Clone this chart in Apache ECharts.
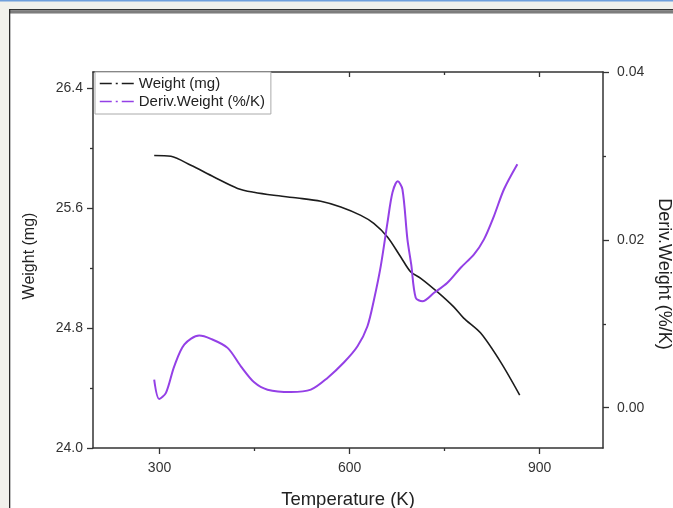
<!DOCTYPE html>
<html>
<head>
<meta charset="utf-8">
<script src="https://cdn.jsdelivr.net/npm/echarts@6/dist/echarts.min.js"></script>
<style>
html,body{margin:0;padding:0;background:#f1f1ec;}
#c{width:673px;height:508px;}
</style>
</head>
<body>
<div id="c"></div>
<script>
// Weight (mg) vs Temperature (K)
const weightT = [291.6,318,349.5,385.8,423.2,448.9,480.4,517.8,554.6,586.1,617.7,638.2,659.8,680.8,696.6,712.3,738.6,764.4,780.1,806.9,838.5,868.5];
const weightV = [25.953,25.947,25.887,25.809,25.733,25.707,25.687,25.669,25.647,25.609,25.553,25.5,25.409,25.275,25.175,25.133,25.042,24.942,24.867,24.767,24.573,24.353];
// Deriv. Weight (%/K) vs Temperature (K)
const derivT = [291.6,299.5,310.1,323.2,339.0,362.6,381.1,407.4,428.4,449.4,470.5,507.3,538.8,565.1,591.3,612.5,628.2,638.6,649.2,659.8,667.7,676.0,683.4,691.3,697.3,704.4,715.0,733.3,754.4,775.4,796.4,812.1,827.9,843.7,864.8];
const derivV = [0.00334,0.00104,0.00176,0.00493,0.00752,0.0086,0.0082,0.00713,0.00493,0.00302,0.00215,0.00187,0.00215,0.00355,0.00541,0.00732,0.00971,0.0129,0.01687,0.02205,0.02564,0.02698,0.02603,0.02006,0.01707,0.0131,0.01269,0.01369,0.01489,0.01668,0.01827,0.02006,0.02284,0.02603,0.02901];
// Tick labels
const xMajor = [300,600,900];
const xMinor = [450,750];
const yLeftMajor = [24.0,24.8,25.6,26.4];
const yLeftMinor = [24.4,25.2,26.0];
const yRightMajor = [0.00,0.02,0.04];
const yRightMinor = [0.01,0.03];
const seriesNames = ['Weight (mg)','Deriv.Weight (%/K)'];

const FONT = 'Liberation Sans, Arial, sans-serif';
const AX = '#333';
const xMin = 195, xMax = 1000;
const yLMin = 24.0, yLMax = 26.51;
const yRMin = -0.0048, yRMax = 0.04;

function xAx(pos, ticks, len, inside, showLine, labels, name) {
  return {
    type:'value', position:pos, min:xMin, max:xMax,
    axisLine:{show:showLine, onZero:false, lineStyle:{color:AX,width:1.5}},
    axisTick:{show:true, inside:inside, length:len, customValues:ticks, lineStyle:{color:AX,width:1.3}},
    axisLabel: labels ? {show:true, customValues:labels, color:'#333', fontFamily:FONT, fontSize:14, margin:13} : {show:false},
    splitLine:{show:false},
    name: name || '', nameLocation:'middle', nameGap:42,
    nameTextStyle:{color:'#222', fontFamily:FONT, fontSize:18.5}
  };
}
function yAx(pos, min, max, ticks, len, showLine, labels, fmt, margin, name, rot, gap, fs, pad) {
  return {
    type:'value', position:pos, min:min, max:max,
    axisLine:{show:showLine, onZero:false, lineStyle:{color:AX,width:1.5}},
    axisTick:{show:true, inside:false, length:len, customValues:ticks, lineStyle:{color:AX,width:1.3}},
    axisLabel: labels ? {show:true, customValues:labels, formatter:fmt, color:'#333', fontFamily:FONT, fontSize:14, margin:margin} : {show:false},
    splitLine:{show:false},
    name: name || '', nameLocation:'middle', nameRotate:rot, nameGap:gap,
    nameTextStyle:{color:'#222', fontFamily:FONT, fontSize:fs || 16, padding:pad || 0}
  };
}

const chart = echarts.init(document.getElementById('c'), null, {renderer:'canvas'});
chart.setOption({
  animation:false,
  backgroundColor:'#f1f1ec',
  graphic:[
    {type:'rect', z:-100, shape:{x:0,y:0,width:673,height:1.5}, style:{fill:'#6f9fdc'}},
    {type:'rect', z:-100, shape:{x:9,y:9,width:664,height:499}, style:{fill:'#ffffff'}},
    {type:'rect', z:-99, shape:{x:9,y:9,width:664,height:1.5}, style:{fill:'#333333'}},
    {type:'rect', z:-99, shape:{x:9,y:10.5,width:664,height:2.5}, style:{fill:'#7d7d7d'}},
    {type:'rect', z:-99, shape:{x:9,y:13,width:664,height:1}, style:{fill:'#b8b8b8'}},
    {type:'rect', z:-99, shape:{x:9,y:9,width:1.3,height:499}, style:{fill:'#2a2a2a'}}
  ],
  grid:{left:93, right:70, top:72, bottom:60, containLabel:false, outerBoundsMode:'none'},
  legend:{
    orient:'vertical', left:95, top:72,
    backgroundColor:'#ffffff', borderColor:'#aaa', borderWidth:1, borderRadius:0,
    padding:[4,6,5,4], itemGap:3, itemWidth:34, itemHeight:12,
    textStyle:{color:'#222', fontFamily:FONT, fontSize:15},
    lineStyle:{type:[12,4,2,4], width:1.5},
    itemStyle:{opacity:0},
    data:[{name:seriesNames[0]},{name:seriesNames[1]}]
  },
  xAxis:[
    xAx('bottom', xMajor, 6, false, true, xMajor, 'Temperature (K)'),
    xAx('bottom', xMinor, 3, false, false, null),
    xAx('top', xMajor, 5, true, true, null),
    xAx('top', xMinor, 3, true, false, null)
  ],
  yAxis:[
    yAx('left', yLMin, yLMax, yLeftMajor, 6, true, yLeftMajor, v=>v.toFixed(1), 10, 'Weight (mg)', 90, 55, 16, [0,0,0,8]),
    yAx('left', yLMin, yLMax, yLeftMinor, 3, false, null),
    yAx('right', yRMin, yRMax, yRightMajor, 6, true, yRightMajor, v=>v.toFixed(2), 14, 'Deriv.Weight (%/K)', -90, 48, 18, [0,0,0,28]),
    yAx('right', yRMin, yRMax, yRightMinor, 3, false, null)
  ],
  series:[
    {name:seriesNames[0], type:'line', xAxisIndex:0, yAxisIndex:0, smooth:0.3, symbol:'none',
     lineStyle:{color:'#1c1c1c', width:1.6}, itemStyle:{color:'#1c1c1c'},
     data: weightT.map((t,i)=>[t, weightV[i]])},
    {name:seriesNames[1], type:'line', xAxisIndex:0, yAxisIndex:2, smooth:0.3, symbol:'none',
     lineStyle:{color:'#9440e6', width:2}, itemStyle:{color:'#9440e6'},
     data: derivT.map((t,i)=>[t, derivV[i]])}
  ]
});
</script>
</body>
</html>
